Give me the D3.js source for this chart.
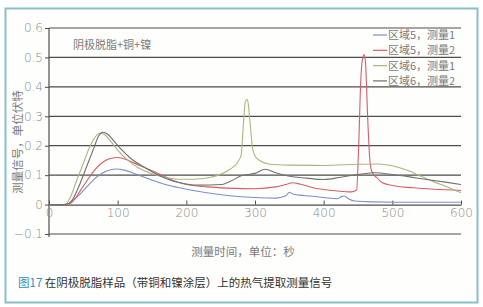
<!DOCTYPE html>
<html>
<head>
<meta charset="utf-8">
<script src="https://cdn.jsdelivr.net/npm/d3@7"></script>
<style>
  body { margin: 0; background: #fff; }
  text { font-family: "Noto Sans CJK SC", "Noto Sans", sans-serif; }
</style>
</head>
<body>
<div id="chart"></div>
<script>
// series data (time in s, signal in V)
var blueT = [0,20,27,35,45,55,65,75,85,97,110,125,140,160,180,200,230,260,300,330,345,350,355,365,380,400,420,426,430,436,445,470,520,600];
var blueV = [0,0,0.002,0.015,0.035,0.06,0.085,0.103,0.115,0.121,0.117,0.105,0.092,0.075,0.062,0.052,0.04,0.031,0.024,0.022,0.03,0.042,0.036,0.032,0.029,0.024,0.02,0.027,0.029,0.02,0.012,0.009,0.008,0.008];

var redT = [0,20,30,38,45,55,65,75,85,95,100,110,125,140,162,180,200,230,260,300,330,345,355,365,380,400,420,440,448,451,454,457,459,461,464,467,470,477,485,500,530,560,600];
var redV = [0,0,0.003,0.02,0.045,0.08,0.113,0.138,0.153,0.159,0.16,0.155,0.14,0.125,0.102,0.083,0.068,0.06,0.056,0.054,0.06,0.068,0.074,0.07,0.06,0.051,0.046,0.043,0.05,0.2,0.42,0.5,0.51,0.48,0.3,0.16,0.113,0.092,0.075,0.065,0.057,0.052,0.048];

var greenT = [0,18,25,32,40,50,60,70,75,80,90,100,115,130,150,170,190,210,234,263,275,280,283,286,289,292,296,300,308,320,350,400,450,480,500,520,540,560,580,600];
var greenV = [0,0,0.003,0.03,0.08,0.14,0.2,0.237,0.243,0.24,0.215,0.185,0.15,0.125,0.105,0.092,0.086,0.086,0.092,0.119,0.145,0.17,0.27,0.35,0.357,0.3,0.2,0.165,0.148,0.138,0.134,0.133,0.137,0.138,0.132,0.118,0.098,0.078,0.06,0.04];

var grayT = [0,20,28,35,45,55,65,72,79,85,95,105,120,140,162,180,200,220,250,265,280,300,315,330,350,375,400,425,450,475,500,525,550,575,600];
var grayV = [0,0,0.003,0.02,0.07,0.13,0.19,0.232,0.246,0.24,0.215,0.188,0.155,0.125,0.097,0.08,0.07,0.066,0.068,0.08,0.098,0.106,0.12,0.108,0.096,0.09,0.085,0.093,0.102,0.108,0.102,0.094,0.085,0.077,0.068];

var seriesNames = ["区域5，测量1", "区域5，测量2", "区域6，测量1", "区域6，测量2"];
var seriesColors = ["#7d8ec8", "#d95c66", "#a8b77c", "#707070"];
var xTicks = [0, 100, 200, 300, 400, 500, 600];
var yTicks = [-0.1, 0, 0.1, 0.2, 0.3, 0.4, 0.5, 0.6];

var W = 483, H = 307;
var svg = d3.select("#chart").append("svg")
    .attr("width", W)
    .attr("height", H);

// outer frame
svg.append("rect")
  .attr("x", 5.5).attr("y", 8.5)
  .attr("width", 472).attr("height", 294)
  .attr("fill", "#fefefd")
  .attr("stroke", "#88c0c8")
  .attr("stroke-width", 2);

var x = d3.scaleLinear().domain([0, 600]).range([49, 461]);
var y = d3.scaleLinear().domain([-0.1, 0.6]).range([234, 28]);

// horizontal grid lines
svg.append("g")
  .selectAll("line")
  .data(yTicks.filter(function(d) { return d != 0; }))
  .enter().append("line")
  .attr("x1", x(0)).attr("x2", x(600))
  .attr("y1", function(d) { return y(d); })
  .attr("y2", function(d) { return y(d); })
  .attr("stroke", "#4d4d4d")
  .attr("stroke-width", 1.2);

// y axis
var fmt = function(d) { return d == 0 ? "0" : d3.format(".1f")(d); };
var yAxis = svg.append("g")
  .attr("transform", "translate(" + x(0) + ",0)")
  .call(d3.axisLeft(y).tickValues(yTicks).tickFormat(fmt).tickSize(4).tickPadding(2));
yAxis.select(".domain").remove();
yAxis.selectAll("line").attr("stroke", "#4d4d4d");
yAxis.selectAll("text").attr("fill", "#8a8a8a").style("font-size", "12px")
  .style("font-family", "'DejaVu Sans', sans-serif").style("font-weight", "200");
svg.append("line")
  .attr("x1", x(0)).attr("x2", x(0))
  .attr("y1", y(0.6)).attr("y2", y(-0.1) + 3)
  .attr("stroke", "#4d4d4d").attr("stroke-width", 1.2);

// x axis at zero
var xAxis = svg.append("g")
  .attr("transform", "translate(0," + y(0) + ")")
  .call(d3.axisBottom(x).tickValues(xTicks).tickSizeInner(-4).tickSizeOuter(0).tickPadding(4));
xAxis.select(".domain").attr("stroke", "#4d4d4d").attr("stroke-width", 1.2);
xAxis.selectAll("line").attr("stroke", "#4d4d4d");
xAxis.selectAll("text").attr("fill", "#8a8a8a").style("font-size", "12px")
  .style("font-family", "'DejaVu Sans', sans-serif").style("font-weight", "200");

// curves
var allT = [blueT, redT, greenT, grayT];
var allV = [blueV, redV, greenV, grayV];
var line = d3.line()
  .x(function(d) { return x(d[0]); })
  .y(function(d) { return y(d[1]); })
  .curve(d3.curveMonotoneX);

for (var i = 0; i < 4; i++) {
  var pts = allT[i].map(function(t, j) { return [t, allV[i][j]]; });
  svg.append("path")
    .datum(pts)
    .attr("d", line)
    .attr("fill", "none")
    .attr("stroke", seriesColors[i])
    .attr("stroke-width", 1.1);
}

// legend
var legend = svg.append("g").attr("transform", "translate(373,35)");
seriesNames.forEach(function(name, i) {
  var row = legend.append("g").attr("transform", "translate(0," + (i * 15.3) + ")");
  row.append("line")
    .attr("x1", 0).attr("x2", 14)
    .attr("stroke", seriesColors[i]).attr("stroke-width", 1.2);
  row.append("text")
    .attr("x", 15).attr("y", 4)
    .attr("fill", "#7a7a7a")
    .style("font-size", "11px")
    .text(name);
});

// annotation
svg.append("text")
  .attr("x", 73).attr("y", 49)
  .attr("fill", "#7a7a7a")
  .style("font-size", "11px")
  .text("阴极脱脂+铜+镍");

// axis titles
svg.append("text")
  .attr("transform", "translate(22,142) rotate(-90)")
  .attr("text-anchor", "middle")
  .attr("fill", "#7a7a7a")
  .style("font-size", "11.5px")
  .text("测量信号，单位伏特");

svg.append("text")
  .attr("x", 243).attr("y", 256)
  .attr("text-anchor", "middle")
  .attr("fill", "#7a7a7a")
  .style("font-size", "11.5px")
  .text("测量时间，单位：秒");

// caption
var cap = svg.append("text")
  .attr("x", 18).attr("y", 287)
  .attr("fill", "#333")
  .style("font-size", "11.5px");
cap.append("tspan").attr("fill", "#2f8fc0").text("图17");
cap.append("tspan").text(" 在阴极脱脂样品（带铜和镍涂层）上的热气提取测量信号");
</script>
</body>
</html>
